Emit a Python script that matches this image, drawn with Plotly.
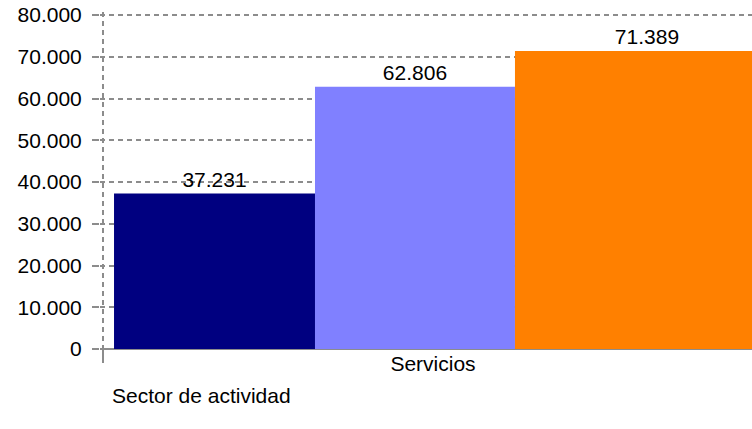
import plotly.graph_objects as go

categories = ["Servicios"]
series_names = ["Serie 1", "Serie 2", "Serie 3"]
series_values = [[37231], [62806], [71389]]
series_colors = ["#000080", "#8080FF", "#FF8000"]
y_ticks = [0, 10000, 20000, 30000, 40000, 50000, 60000, 70000, 80000]
axis_title = "Sector de actividad"

# bar layout (style): offset and width in category units
bar_offsets = [-0.4833, -0.1788, 0.1242]
bar_widths = [0.3045, 0.3030, 0.40]

FONT = "Liberation Sans, Arial, sans-serif"
GRID = "#8c8c8c"
FS = 21

fig = go.Figure()
for name, vals, col, off, w in zip(series_names, series_values, series_colors, bar_offsets, bar_widths):
    fig.add_trace(go.Bar(
        x=categories, y=vals, name=name,
        marker=dict(color=col, line=dict(width=0)),
        offset=off, width=w,
        text=[f"{v:,}".replace(",", ".") for v in vals],
        textposition="outside",
        textfont=dict(family=FONT, size=FS, color="#000"),
        cliponaxis=False,
    ))

fig.update_layout(
    width=752, height=429,
    margin=dict(l=100, r=0, t=12, b=80),
    barmode="overlay",
    showlegend=False,
    plot_bgcolor="white", paper_bgcolor="white",
    separators=",.",
    font=dict(family=FONT, size=FS, color="#000"),
    xaxis=dict(
        type="category",
        range=[-0.50455, 0.48333],
        tickson="boundaries",
        showgrid=True, gridcolor=GRID, griddash="5px,4px", gridwidth=2,
        ticks="outside", ticklen=13, tickcolor=GRID, tickwidth=2,
        showline=False,
        zeroline=False,
        tickfont=dict(size=FS),
    ),
    yaxis=dict(
        range=[0, 80719],
        tickvals=y_ticks,
        tickformat=",d",
        showgrid=True, gridcolor=GRID, griddash="5px,4px", gridwidth=2,
        ticks="outside", ticklen=7, tickcolor=GRID, tickwidth=2,
        zeroline=True, zerolinecolor=GRID, zerolinewidth=2,
        showline=False,
        ticklabelstandoff=6,
    ),
    annotations=[dict(
        text=axis_title, xref="paper", yref="paper",
        x=(110 - 100) / 652, y=-(395 - 349) / 337,
        xanchor="left", yanchor="middle", showarrow=False,
        font=dict(size=FS),
    )],
)

fig.write_html("out.html", config={"displayModeBar": False},
               post_script="document.body.style.margin='0';")
